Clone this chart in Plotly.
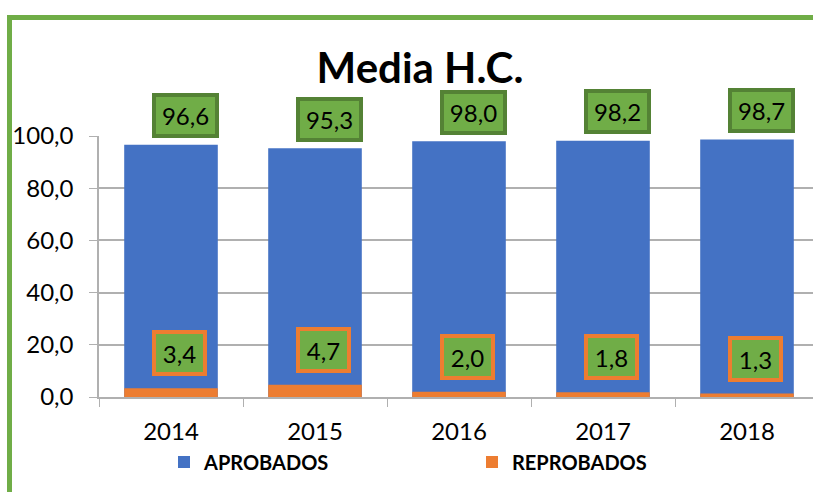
import plotly.graph_objects as go

# Data
years = ["2014", "2015", "2016", "2017", "2018"]
aprobados = [96.6, 95.3, 98.0, 98.2, 98.7]
reprobados = [3.4, 4.7, 2.0, 1.8, 1.3]
y_ticks = [0, 20, 40, 60, 80, 100]

BLUE = "#4472C4"
ORANGE = "#ED7D31"
GREEN = "#70AD47"
DARK_GREEN = "#548235"
GRID = "#B0B0B0"
FONT = "Lato"

W, H = 813, 492
M_L, M_R, M_T, M_B = 99, 0, 136, 95
plot_w = W - M_L - M_R
plot_h = H - M_T - M_B


def fmt(v):
    return f"{v:.1f}".replace(".", ",")


fig = go.Figure()
fig.add_trace(go.Bar(x=years, y=aprobados, name="APROBADOS",
                     marker=dict(color=BLUE, line=dict(width=0)), width=0.65))
fig.add_trace(go.Bar(x=years, y=reprobados, name="REPROBADOS",
                     marker=dict(color=ORANGE, line=dict(width=0)), width=0.65))

# Boxed value labels
annotations = []
for i, (a, r) in enumerate(zip(aprobados, reprobados)):
    annotations.append(dict(
        x=i, y=a, xref="x", yref="y", text=fmt(a), showarrow=False,
        xshift=14, yshift=29, width=55, height=33,
        bgcolor=GREEN, bordercolor=DARK_GREEN, borderwidth=4, borderpad=2,
        font=dict(family=FONT, size=24, color="#000000")))
    annotations.append(dict(
        x=i, y=r, xref="x", yref="y", text=fmt(r), showarrow=False,
        xshift=8, yshift=35, width=43, height=34,
        bgcolor=GREEN, bordercolor=ORANGE, borderwidth=4, borderpad=2,
        font=dict(family=FONT, size=24, color="#000000")))

# Outer chart frame
frame = dict(type="rect", xref="paper", yref="paper",
             x0=(9.5 - M_L) / plot_w, x1=1.2,
             y0=-0.6, y1=(M_T + plot_h - 17.5) / plot_h,
             line=dict(color=GREEN, width=5), fillcolor="rgba(0,0,0,0)",
             layer="below")

fig.update_layout(
    width=W, height=H,
    margin=dict(l=M_L, r=M_R, t=M_T, b=M_B),
    paper_bgcolor="white", plot_bgcolor="white",
    barmode="overlay",
    font=dict(family=FONT, color="#000000"),
    title=dict(text="Media H.C.", xref="paper", yref="container",
               x=(420 - M_L) / plot_w, y=1 - 68 / H,
               xanchor="center", yanchor="middle",
               font=dict(family=FONT, size=42, weight="bold", color="#000000")),
    xaxis=dict(range=[-0.5, -0.5 + plot_w / 144], showline=True, linecolor=GRID,
               linewidth=1.5, ticks="outside", ticklen=8, tickcolor=GRID,
               tickson="boundaries", showgrid=False, ticklabelstandoff=12,
               tickfont=dict(family=FONT, size=24, color="#000000")),
    yaxis=dict(range=[0, 100], tickvals=y_ticks, ticktext=[fmt(v) for v in y_ticks],
               showline=True, linecolor=GRID, linewidth=1.5, ticks="outside",
               ticklen=8, tickcolor=GRID, showgrid=True, gridcolor=GRID,
               gridwidth=1.5, zeroline=False, ticklabelstandoff=11,
               tickfont=dict(family=FONT, size=24, color="#000000")),
    legend=dict(orientation="h", x=(164 - M_L) / plot_w, xanchor="left",
                y=(M_T + plot_h - 462) / plot_h, yanchor="middle",
                entrywidth=263, entrywidthmode="pixels",
                font=dict(family=FONT, size=20, weight="bold", color="#000000"),
                bgcolor="rgba(0,0,0,0)"),
    annotations=annotations,
    shapes=[frame],
    showlegend=True,
)
for a in fig.layout.annotations:
    a.update(captureevents=False)

fig.write_html("out.html")
